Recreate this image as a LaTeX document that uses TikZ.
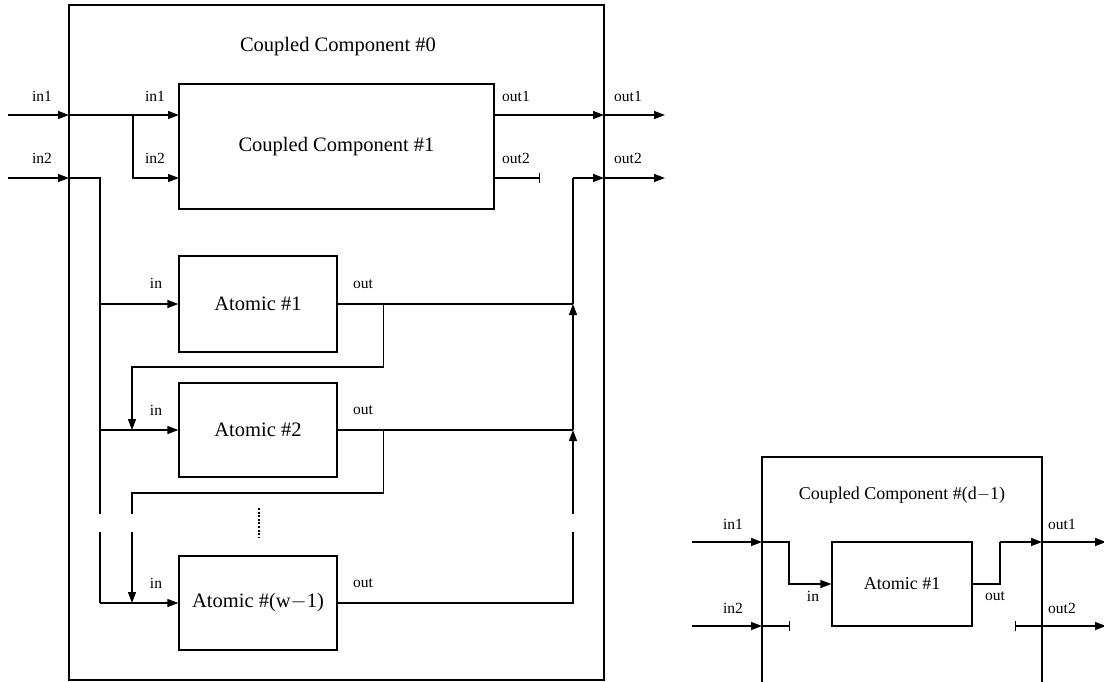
\documentclass[tikz,border=0pt]{standalone}
\usepackage{fontspec}
\setmainfont{Liberation Serif}
\usetikzlibrary{arrows.meta}
\begin{document}
\begin{tikzpicture}[x=1pt,y=-1pt,
  wire/.style={line width=1.3pt},
  arr/.style={wire,-{Triangle[length=11pt,width=8pt]}},
  barend/.style={wire,-{Bar[width=10pt,line width=1.3pt]}},
  barstart/.style={wire,{Bar[width=10pt,line width=1.3pt]}-{Triangle[length=11pt,width=8pt]}},
  box/.style={draw,line width=1.3pt,inner sep=0pt},
  big/.style={font=\fontsize{20.5}{24}\selectfont},
  mid/.style={font=\fontsize{18}{21}\selectfont},
  lbl/.style={font=\fontsize{15.5}{18}\selectfont,inner sep=0pt}]
\useasboundingbox (0,0) rectangle (1104,681);
% ---------- left diagram ----------
\node[box,minimum width=535pt,minimum height=675pt] (cc0) at (336.5,342.5) {};
\node[big] (t0) at (338,47) {Coupled Component \#0};
\node[box,big,minimum width=315pt,minimum height=125pt] (cc1) at (336.5,146.5) {Coupled Component \#1};
\node[box,big,minimum width=158pt,minimum height=96pt] (a1) at (258,304) {Atomic \#1};
\node[box,big,minimum width=158pt,minimum height=94pt] (a2) at (258,430) {Atomic \#2};
\node[box,big,minimum width=158pt,minimum height=94pt] (aw) at (258,603) {Atomic \#(w$-$1)};
% coordinates
\coordinate (xin1) at (8,115);
\coordinate (xin2) at (8,178);
\coordinate (p01) at (69,115);
\coordinate (p02) at (69,178);
\coordinate (c11) at (179,115);
\coordinate (c12) at (179,178);
\coordinate (br) at (133,115);
\coordinate (o11) at (494,115);
\coordinate (o12) at (494,178);
\coordinate (o12e) at (540,178);
\coordinate (q01) at (604,115);
\coordinate (q02) at (604,178);
\coordinate (xo1) at (665,115);
\coordinate (xo2) at (665,178);
\coordinate (bus) at (100,178);
\coordinate (col) at (573,178);
% inputs
\draw[arr] (xin1) -- (p01);
\draw[arr] (xin2) -- (p02);
\draw[arr] (p01) -- (c11);
\draw[arr] (br) |- (c12);
\draw[wire] (p02) -- (bus) -- (100,514);
\draw[wire] (100,532) -- (100,603);
\draw[arr] (100,603) -- (aw.west);
\draw[arr] (100,304) -- (a1.west);
\draw[arr] (100,430) -- (a2.west);
% feedback
\draw[arr] (a1.east) ++(46,0) |- (132,367) -- (132,430);
\draw[wire] (a2.east) ++(46,0) |- (132,493) -- (132,514);
\draw[arr] (132,532) -- (132,603);
% outputs of atomics
\draw[wire] (a1.east) -- (573,304);
\draw[wire] (a2.east) -- (573,430);
\draw[wire] (aw.east) -- (573,603) -- (573,532);
\draw[arr] (573,514) -- (573,430);
\draw[arr] (573,430) -- (573,304);
\draw[wire] (573,304) -- (col);
\draw[arr] (col) -- (q02);
\draw[arr] (q02) -- (xo2);
\draw[arr] (o11) -- (q01);
\draw[arr] (q01) -- (xo1);
\draw[barend] (o12) -- (o12e);
% dots
\draw[line width=2.6pt,dash pattern=on 2pt off 1.6pt] (259,508) -- (259,537);
% labels
\node[lbl] (l1) at (42,96) {in1};
\node[lbl] (l2) at (42,158) {in2};
\node[lbl] (l3) at (155,96) {in1};
\node[lbl] (l4) at (155,158) {in2};
\node[lbl] (l5) at (516,96) {out1};
\node[lbl] (l6) at (516,158) {out2};
\node[lbl] (l7) at (628,96) {out1};
\node[lbl] (l8) at (628,158) {out2};
\node[lbl] (l9) at (156,283) {in};
\node[lbl] (l10) at (156,410) {in};
\node[lbl] (l11) at (156,583) {in};
\node[lbl] (l12) at (363,284) {out};
\node[lbl] (l13) at (363,410) {out};
\node[lbl] (l14) at (363,583) {out};
% ---------- right diagram ----------
\node[box,minimum width=280pt,minimum height=240pt] (cd) at (902,577) {};
\node[mid] (td) at (902,495) {Coupled Component \#(d$-$1)};
\node[box,mid,minimum width=140pt,minimum height=84pt] (ad) at (902,584) {Atomic \#1};
\coordinate (rin1) at (692,542);
\coordinate (rin2) at (692,626);
\coordinate (rp1) at (762,542);
\coordinate (rp2) at (762,626);
\coordinate (rq1) at (1042,542);
\coordinate (rq2) at (1042,626);
\coordinate (rx1) at (1106,542);
\coordinate (rx2) at (1106,626);
\draw[arr] (rin1) -- (rp1);
\draw[arr] (rin2) -- (rp2);
\draw[arr] (rp1) -- (789,542) |- (ad.west);
\draw[barend] (rp2) -- (790,626);
\draw[wire] (ad.east) -- (1000,584) -- (1000,542);
\draw[arr] (1000,542) -- (rq1);
\draw[arr] (rq1) -- (rx1);
\draw[barstart] (1015,626) -- (rx2);
\node[lbl] (r1) at (733,524) {in1};
\node[lbl] (r2) at (733,608) {in2};
\node[lbl] (r3) at (813,596) {in};
\node[lbl] (r4) at (995,596) {out};
\node[lbl] (r5) at (1062,524) {out1};
\node[lbl] (r6) at (1062,608) {out2};
\end{tikzpicture}
\end{document}
